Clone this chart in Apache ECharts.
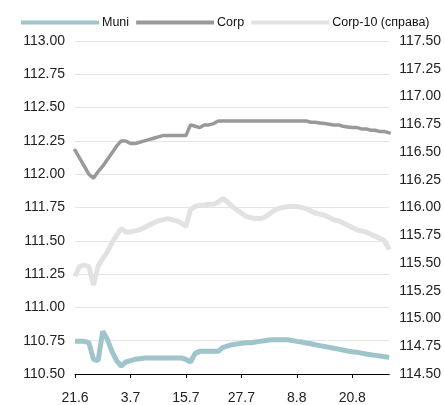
<!DOCTYPE html>
<html>
<head>
<meta charset="utf-8">
<script src="https://cdn.jsdelivr.net/npm/echarts@6/dist/echarts.min.js"></script>
<style>html,body{margin:0;padding:0;background:#fff;}#c{width:444px;height:405px;}</style>
</head>
<body>
<div id="c"></div>
<script>
const categories = [
  '21.6','22.6','23.6','24.6','25.6','26.6','27.6','28.6','29.6','30.6',
  '1.7','2.7','3.7','4.7','5.7','6.7','7.7','8.7','9.7','10.7',
  '11.7','12.7','13.7','14.7','15.7','16.7','17.7','18.7','19.7','20.7',
  '21.7','22.7','23.7','24.7','25.7','26.7','27.7','28.7','29.7','30.7','31.7',
  '1.8','2.8','3.8','4.8','5.8','6.8','7.8','8.8','9.8','10.8',
  '11.8','12.8','13.8','14.8','15.8','16.8','17.8','18.8','19.8','20.8',
  '21.8','22.8','23.8','24.8','25.8','26.8','27.8','28.8'
];

const muni = [
  110.745,110.745,110.745,110.735,110.61,110.60,110.82,110.76,110.67,110.60,
  110.56,110.59,110.60,110.61,110.615,110.62,110.62,110.62,110.62,110.62,
  110.62,110.62,110.62,110.62,110.61,110.59,110.655,110.67,110.67,110.67,
  110.67,110.67,110.70,110.71,110.72,110.725,110.73,110.735,110.735,110.74,
  110.745,110.75,110.755,110.757,110.757,110.757,110.757,110.752,110.745,110.74,
  110.733,110.727,110.72,110.713,110.707,110.70,110.693,110.687,110.68,110.673,
  110.667,110.664,110.657,110.65,110.645,110.64,110.635,110.63,110.625
];

const corp = [
  112.18,112.12,112.06,112.00,111.97,112.02,112.06,112.11,112.16,112.21,
  112.25,112.25,112.23,112.23,112.24,112.25,112.26,112.27,112.28,112.29,
  112.29,112.29,112.29,112.29,112.29,112.37,112.36,112.35,112.37,112.37,
  112.38,112.40,112.40,112.40,112.40,112.40,112.40,112.40,112.40,112.40,
  112.40,112.40,112.40,112.40,112.40,112.40,112.40,112.40,112.40,112.40,
  112.40,112.39,112.39,112.385,112.38,112.375,112.37,112.37,112.36,112.355,
  112.35,112.35,112.34,112.34,112.33,112.33,112.32,112.32,112.31
];

const corp10 = [
  115.38,115.47,115.48,115.47,115.30,115.47,115.54,115.60,115.68,115.75,
  115.81,115.78,115.78,115.79,115.80,115.82,115.84,115.86,115.88,115.89,
  115.90,115.89,115.88,115.86,115.83,115.98,116.01,116.02,116.02,116.03,
  116.03,116.05,116.08,116.05,116.01,115.98,115.95,115.92,115.91,115.90,
  115.90,115.91,115.94,115.97,115.99,116.00,116.01,116.01,116.01,116.00,
  115.99,115.97,115.95,115.94,115.93,115.91,115.89,115.88,115.86,115.84,
  115.82,115.80,115.79,115.78,115.76,115.74,115.72,115.70,115.62
];

const seriesNames = ['Muni', 'Corp', 'Corp-10 (справа)'];
const leftTicks = { min: 110.5, max: 113, interval: 0.25 };
const rightTicks = { min: 114.5, max: 117.5, interval: 0.25 };

const FONT = 'Liberation Sans';
const chart = echarts.init(document.getElementById('c'), null, { renderer: 'canvas' });
chart.setOption({
  animation: false,
  backgroundColor: '#ffffff',
  textStyle: { fontFamily: FONT },
  legend: {
    left: 21, top: 16, padding: 0,
    icon: 'rect', itemWidth: 78, itemHeight: 4, itemGap: 7,
    textStyle: { fontFamily: FONT, fontSize: 12.5, color: '#111', padding: [0, 0, 0, -2] },
    data: seriesNames
  },
  grid: { left: 75, right: 52, top: 41, bottom: 29 },
  xAxis: {
    type: 'category', data: categories, boundaryGap: false,
    axisLine: { lineStyle: { color: '#000', width: 1 } },
    axisTick: { interval: 11, length: 4, lineStyle: { color: '#000' } },
    axisLabel: { interval: 11, fontFamily: FONT, fontSize: 14, color: '#222', margin: 17 },
    splitLine: { show: false }
  },
  yAxis: [
    {
      type: 'value', min: leftTicks.min, max: leftTicks.max, interval: leftTicks.interval,
      axisLine: { show: false }, axisTick: { show: false },
      axisLabel: { fontFamily: FONT, fontSize: 14, color: '#222', margin: 10, formatter: v => v.toFixed(2) },
      splitLine: { lineStyle: { color: '#e4e4e4', width: 1 } }
    },
    {
      type: 'value', min: rightTicks.min, max: rightTicks.max, interval: rightTicks.interval,
      position: 'right',
      axisLine: { show: false }, axisTick: { show: false },
      axisLabel: { fontFamily: FONT, fontSize: 14, color: '#222', margin: 10, formatter: v => v.toFixed(2) },
      splitLine: { show: false }
    }
  ],
  series: [
    {
      name: seriesNames[0], type: 'line', data: muni, yAxisIndex: 0,
      showSymbol: false, symbol: 'none',
      lineStyle: { color: '#9fc4cb', width: 5 },
      itemStyle: { color: '#9fc4cb' }, z: 3
    },
    {
      name: seriesNames[1], type: 'line', data: corp, yAxisIndex: 0,
      showSymbol: false, symbol: 'none',
      lineStyle: { color: '#999999', width: 3.5, cap: 'round' },
      itemStyle: { color: '#999999' }, z: 3
    },
    {
      name: seriesNames[2], type: 'line', data: corp10, yAxisIndex: 1,
      showSymbol: false, symbol: 'none',
      lineStyle: { color: '#e2e2e2', width: 5 },
      itemStyle: { color: '#e2e2e2' }, z: 2
    }
  ]
});
</script>
</body>
</html>
